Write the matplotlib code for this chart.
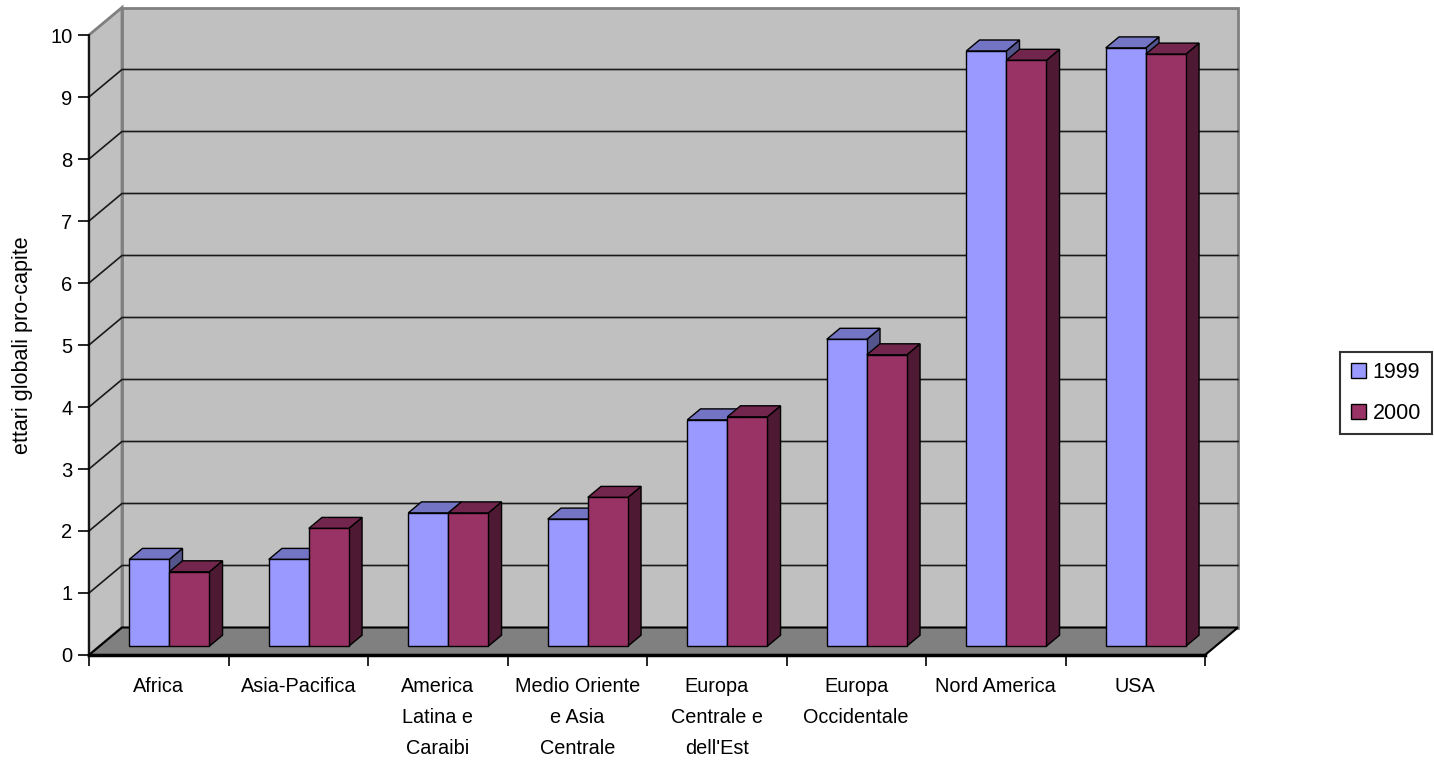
import matplotlib
matplotlib.use("Agg")
import matplotlib.pyplot as plt
from matplotlib.patches import Polygon, Patch

# ettari globali pro-capite, per regione
regions = ["Africa", "Asia-Pacifica", "America\nLatina e\nCaraibi",
           "Medio Oriente\ne Asia\nCentrale", "Europa\nCentrale e\ndell'Est",
           "Europa\nOccidentale", "Nord America", "USA"]
v1999 = [1.4, 1.4, 2.15, 2.05, 3.65, 4.95, 9.6, 9.65]
v2000 = [1.2, 1.9, 2.15, 2.4, 3.7, 4.7, 9.45, 9.55]
years = ["1999", "2000"]

front = {"1999": "#9999FF", "2000": "#993366"}
top = {"1999": "#7474C4", "2000": "#73264D"}
side = {"1999": "#55558E", "2000": "#4D1933"}

plt.rcParams["font.family"] = ["Liberation Sans", "DejaVu Sans"]
plt.rcParams["font.size"] = 14

W, H = 1434, 767
fig = plt.figure(figsize=(W / 100, H / 100), dpi=100)
x0, x1, y0, y1 = 89, 1205, 655, 35
ax = fig.add_axes([x0 / W, 1 - y0 / H, (x1 - x0) / W, (y0 - y1) / H])
n = len(regions)
ax.set_xlim(0, n)
ax.set_ylim(0, 10)

# oblique depth offset, in data units
DX = 33 / ((x1 - x0) / n)
DY = 27.5 / ((y0 - y1) / 10)

def P(x, y, d):
    return (x + d * DX, y + d * DY)

def poly(pts, fc, ec="black", lw=1.0, z=1):
    ax.add_patch(Polygon(pts, closed=True, facecolor=fc, edgecolor=ec,
                         linewidth=lw, zorder=z, clip_on=False, joinstyle="miter"))

# walls and floor
poly([P(0, 0, 1), P(n, 0, 1), P(n, 10, 1), P(0, 10, 1)], "#C0C0C0", "#808080", 2.0, 0)
poly([P(0, 0, 0), P(0, 0, 1), P(0, 10, 1), P(0, 10, 0)], "#C0C0C0", "#808080", 2.0, 0)
for v in range(1, 10):
    ax.plot(*zip(P(0, v, 0), P(0, v, 1), P(n, v, 1)), color="#1a1a1a",
            lw=1.2, zorder=0.5, clip_on=False)
poly([P(0, 0, 0), P(n, 0, 0), P(n, 0, 1), P(0, 0, 1)], "#808080", "black", 1.5, 0.6)
ax.plot(*zip(P(0, 0, 0), P(n, 0, 0)), color="black", lw=2.5, zorder=0.7, clip_on=False)

# bars
bw = 0.287
f0, f1 = 0.32, 0.72
for i in range(n):
    for j, (yr, vals) in enumerate(zip(years, [v1999, v2000])):
        v = vals[i]
        xa = i + 0.5 - bw + j * bw
        xb = xa + bw
        z = 2 + i * 0.1 + j * 0.05
        poly([P(xb, 0, f0), P(xb, 0, f1), P(xb, v, f1), P(xb, v, f0)], side[yr], z=z)
        poly([P(xa, v, f0), P(xb, v, f0), P(xb, v, f1), P(xa, v, f1)], top[yr], z=z)
        poly([P(xa, 0, f0), P(xb, 0, f0), P(xb, v, f0), P(xa, v, f0)], front[yr], z=z + 0.01)

# axes
for s in ["top", "right", "bottom"]:
    ax.spines[s].set_visible(False)
ax.spines["left"].set_linewidth(1.2)
ax.set_facecolor("none")
ax.set_yticks(range(0, 11))
ax.tick_params(axis="y", length=8, width=1.2, pad=4, labelsize=14.5)
ax.set_xticks(range(0, n + 1))
ax.set_xticklabels([])
ax.set_xticks([i + 0.5 for i in range(n)], minor=True)
ax.set_xticklabels(regions, minor=True, linespacing=1.8)
ax.tick_params(axis="x", which="major", length=8, width=1.2, color="black")
ax.tick_params(axis="x", which="minor", length=0, pad=16, labelsize=14.3)
ax.set_ylabel("ettari globali pro-capite", fontsize=15.5, labelpad=12)

handles = [Patch(facecolor=front[y], edgecolor="black", label=y) for y in years]
leg = fig.legend(handles=handles, loc="center", bbox_to_anchor=(1386 / W, 1 - 393 / H),
                 frameon=True, fancybox=False, edgecolor="black", fontsize=15.5,
                 handlelength=0.7, handleheight=0.7, handletextpad=0.3,
                 labelspacing=0.9, borderpad=0.5, borderaxespad=0)
leg.get_frame().set_linewidth(1.5)

fig.savefig("out.png", dpi=100)
